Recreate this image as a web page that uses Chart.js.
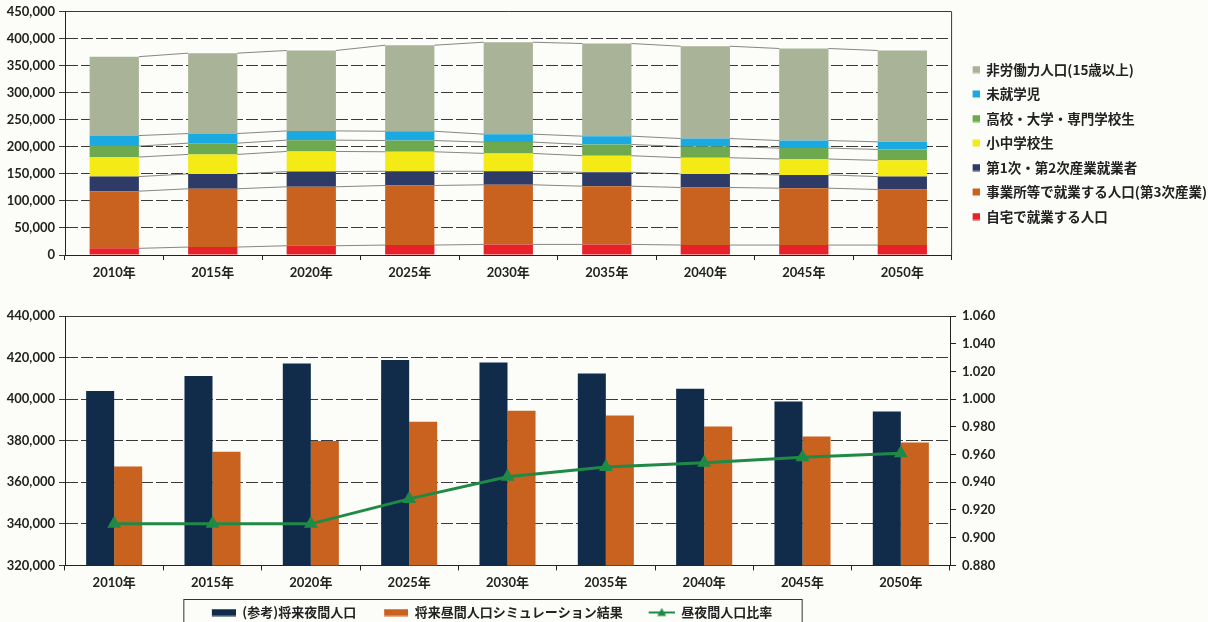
<!DOCTYPE html>
<html lang="ja">
<head>
<meta charset="UTF-8">
<title>将来昼間人口の推計</title>
<script src="https://cdn.jsdelivr.net/npm/chart.js@4.4.1/dist/chart.umd.min.js"></script>
<style>
  html, body { margin: 0; padding: 0; background: #fcfcf8; overflow: hidden; }
  #topChart { position: absolute; left: 0; top: 0; }
  #bottomChart { position: absolute; left: 0; top: 290px; }
</style>
</head>
<body>
<canvas id="topChart" width="1208" height="283"></canvas>
<canvas id="bottomChart" width="1208" height="339"></canvas>

<script>
// ---- data ----
const years = ['2010年', '2015年', '2020年', '2025年', '2030年', '2035年', '2040年', '2045年', '2050年'];

// top chart: daytime population breakdown (stack order bottom -> top)
const workAtHome       = [12300, 14700, 17100, 18400, 19600, 19600, 18400, 18400, 18400];
const workTertiary     = [105800, 107800, 109100, 110200, 110300, 107700, 106500, 105200, 102800];
const workPrimarySec   = [27000, 27600, 28100, 26300, 25000, 25700, 25200, 24600, 23900];
const elemJuniorHigh   = [36200, 36000, 37300, 36100, 33100, 30700, 29900, 29400, 30000];
const highCollege      = [20200, 20900, 20900, 20800, 20900, 20800, 20800, 20200, 20200];
const preschool        = [19500, 17700, 17100, 17200, 14700, 15400, 14700, 14000, 14100];
const nonLabor         = [146000, 148800, 148800, 159200, 170100, 171400, 170800, 170300, 169000];

// bottom chart
const nightPop = [403900, 411100, 417100, 418800, 417600, 412300, 405000, 398900, 394100];
const dayPop   = [367600, 374700, 379900, 389100, 394400, 392100, 386800, 382000, 379100];
const dayNightRatio = [0.910, 0.910, 0.910, 0.928, 0.944, 0.951, 0.954, 0.958, 0.961];

// axis ranges
const topAxis = { min: 0, max: 450000, step: 50000 };
const leftAxis = { min: 320000, max: 440000, step: 20000 };
const rightAxis = { min: 0.88, max: 1.06, step: 0.02 };

const tickFont = { family: 'Lato, "Noto Sans CJK JP", sans-serif', size: 13, weight: 'bold' };
const legendFont = { family: '"Noto Sans CJK JP", sans-serif', size: 13.5, weight: 'bold' };
const gridColor = '#3a3a3a';
const dash = [12, 3];

// small legend icons, drawn on the right part of a wider canvas so the gap before them grows
function makeIcon(w, h, draw) {
  const c = document.createElement('canvas');
  c.width = w; c.height = h;
  draw(c.getContext('2d'));
  return c;
}

// thin lines joining the segment tops of neighbouring bars
const seriesLines = {
  id: 'seriesLines',
  afterDatasetsDraw(chart) {
    const ctx = chart.ctx;
    ctx.save();
    ctx.strokeStyle = 'rgba(40,40,40,0.7)';
    ctx.lineWidth = 0.8;
    chart.data.datasets.forEach((ds, di) => {
      const bars = chart.getDatasetMeta(di).data;
      for (let i = 0; i < bars.length - 1; i++) {
        const a = bars[i], b = bars[i + 1];
        ctx.beginPath();
        ctx.moveTo(a.x + a.width / 2, a.y);
        ctx.lineTo(b.x - b.width / 2, b.y);
        ctx.stroke();
      }
    });
    ctx.restore();
  }
};

const rightFrame = {
  id: 'rightFrame',
  afterDraw(chart) {
    const { ctx, chartArea: a } = chart;
    ctx.save();
    ctx.strokeStyle = gridColor;
    ctx.lineWidth = 1;
    ctx.beginPath();
    ctx.moveTo(a.right, a.top);
    ctx.lineTo(a.right, a.bottom);
    ctx.stroke();
    ctx.restore();
  }
};

const legendFrame = {
  id: 'legendFrame',
  afterDraw(chart) {
    const boxes = chart.legend.legendHitBoxes;
    if (!boxes || !boxes.length) return;
    const first = boxes[0], last = boxes[boxes.length - 1];
    const cy = first.top + first.height / 2;
    const ctx = chart.ctx;
    ctx.save();
    ctx.strokeStyle = '#333';
    ctx.lineWidth = 1;
    ctx.strokeRect(first.left - 10, cy - 13, last.left + last.width - first.left + 40, 40);
    ctx.restore();
  }
};

// ---- top chart ----
const stackSets = [
  ['自宅で就業する人口', workAtHome, '#e8202a'],
  ['事業所等で就業する人口(第3次産業)', workTertiary, '#c8621e'],
  ['第1次・第2次産業就業者', workPrimarySec, '#2d3b66'],
  ['小中学校生', elemJuniorHigh, '#f4ea16'],
  ['高校・大学・専門学校生', highCollege, '#6ea94f'],
  ['未就学児', preschool, '#1ba9e1'],
  ['非労働力人口(15歳以上)', nonLabor, '#a9b397']
];

new Chart(document.getElementById('topChart'), {
  type: 'bar',
  data: {
    labels: years,
    datasets: stackSets.map(([label, data, color]) => ({
      label, data, backgroundColor: color, borderWidth: 0,
      categoryPercentage: 1, barPercentage: 0.5
    }))
  },
  options: {
    responsive: false,
    animation: false,
    layout: { padding: { top: 3, right: -9, bottom: 0, left: 0 } },
    plugins: {
      tooltip: { enabled: false },
      legend: {
        position: 'right',
        reverse: true,
        labels: {
          font: legendFont, color: '#222', usePointStyle: true, pointStyleWidth: 17, padding: 11,
          generateLabels: chart => {
            const items = Chart.defaults.plugins.legend.labels.generateLabels(chart);
            items.forEach(it => {
              const color = stackSets[it.datasetIndex][2];
              it.pointStyle = makeIcon(17, 8, c => { c.fillStyle = color; c.fillRect(10, 0.5, 7, 7); });
              it.lineWidth = 0;
            });
            return items;
          }
        }
      }
    },
    scales: {
      x: {
        stacked: true,
        grid: { offset: true, drawOnChartArea: false, tickLength: 5, color: '#222' },
        border: { color: '#222' },
        ticks: { font: tickFont, color: '#222', padding: 5 },
        afterFit: s => { s.height = 28; }
      },
      y: {
        stacked: true,
        min: topAxis.min, max: topAxis.max,
        grid: { color: gridColor, tickLength: 6 },
        border: { color: '#222', dash: c => (c.tick && c.tick.value === topAxis.max ? [] : dash) },
        ticks: {
          stepSize: topAxis.step, font: tickFont, color: '#222', padding: 4,
          callback: v => v.toLocaleString('en-US')
        },
        afterFit: s => { s.width = 65; }
      }
    }
  },
  plugins: [seriesLines, rightFrame]
});

// ---- bottom chart ----
const barIcon = color => makeIcon(42, 8, c => { c.fillStyle = color; c.fillRect(18, 0.5, 24, 7); });
const lineIcon = makeIcon(42, 10, c => {
  c.strokeStyle = '#1f8a45'; c.fillStyle = '#1f8a45'; c.lineWidth = 2;
  c.beginPath(); c.moveTo(16, 5); c.lineTo(42, 5); c.stroke();
  c.beginPath(); c.moveTo(29, 0.5); c.lineTo(33.5, 8.5); c.lineTo(24.5, 8.5); c.closePath(); c.fill();
});

new Chart(document.getElementById('bottomChart'), {
  data: {
    labels: years,
    datasets: [
      {
        type: 'bar', label: '(参考)将来夜間人口', data: nightPop,
        backgroundColor: '#112c4a', yAxisID: 'y', order: 1,
        categoryPercentage: 0.57, barPercentage: 1
      },
      {
        type: 'bar', label: '将来昼間人口シミュレーション結果', data: dayPop,
        backgroundColor: '#c9611f', yAxisID: 'y', order: 1,
        categoryPercentage: 0.57, barPercentage: 1
      },
      {
        type: 'line', label: '昼夜間人口比率', data: dayNightRatio,
        borderColor: '#1f8a45', backgroundColor: '#1f8a45', borderWidth: 3,
        pointStyle: 'triangle', pointRadius: 5, yAxisID: 'y1', order: 0
      }
    ]
  },
  options: {
    responsive: false,
    animation: false,
    layout: { padding: { top: 26, right: 200, bottom: 0, left: -42 } },
    plugins: {
      tooltip: { enabled: false },
      legend: {
        position: 'bottom',
        labels: {
          font: { family: '"Noto Sans CJK JP", sans-serif', size: 13, weight: 'bold' },
          color: '#222', usePointStyle: true, pointStyleWidth: 42, padding: 10,
          sort: (a, b) => a.datasetIndex - b.datasetIndex,
          generateLabels: chart => {
            const items = Chart.defaults.plugins.legend.labels.generateLabels(chart);
            items.forEach(it => {
              it.pointStyle = it.datasetIndex === 2 ? lineIcon
                : barIcon(chart.data.datasets[it.datasetIndex].backgroundColor);
              it.lineWidth = 0;
            });
            return items;
          }
        }
      }
    },
    scales: {
      x: {
        grid: { offset: true, drawOnChartArea: false, tickLength: 5, color: '#222' },
        border: { color: '#222' },
        ticks: { font: tickFont, color: '#222', padding: 5 }
      },
      y: {
        position: 'left',
        min: leftAxis.min, max: leftAxis.max,
        grid: { color: gridColor, tickLength: 6 },
        border: { color: '#222', dash: c => (c.tick && c.tick.value === leftAxis.max ? [] : dash) },
        ticks: {
          stepSize: leftAxis.step, font: tickFont, color: '#222', padding: 4,
          callback: v => v.toLocaleString('en-US')
        },
        afterFit: s => { s.width = 107; }
      },
      y1: {
        position: 'right',
        min: rightAxis.min, max: rightAxis.max,
        grid: { drawOnChartArea: false, tickLength: 6, color: '#222' },
        border: { color: '#222' },
        ticks: {
          stepSize: rightAxis.step, font: tickFont, color: '#222', padding: 6,
          callback: v => v.toFixed(3)
        },
        afterFit: s => { s.width = 58; }
      }
    }
  },
  plugins: [legendFrame]
});
</script>
</body>
</html>
